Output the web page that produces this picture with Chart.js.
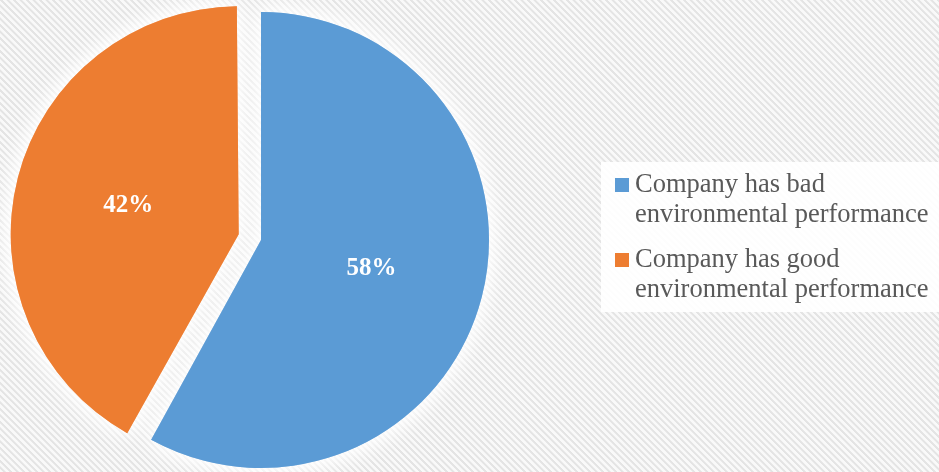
<!DOCTYPE html>
<html>
<head>
<meta charset="utf-8">
<script src="https://cdn.jsdelivr.net/npm/chart.js@4/dist/chart.umd.min.js"></script>
<style>
  html, body { margin: 0; padding: 0; }
  body {
    width: 939px; height: 472px; overflow: hidden; position: relative;
    background: repeating-linear-gradient(45deg, #f9f9f9 0px, #f9f9f9 2px, #e4e4e4 2.6px, #e4e4e4 4px, #f9f9f9 4.6px);
  }
  #chart { position: absolute; left: 0; top: 0; }
  #legend {
    position: absolute; left: 601px; top: 162px; width: 338px; height: 150px;
    background: rgba(255,255,255,0.92);
    font-family: "Liberation Serif", "Times New Roman", serif;
    font-size: 26.5px; line-height: 30px; color: #595959;
  }
  .item { position: absolute; left: 0; }
  .swatch { position: absolute; left: 14px; top: 10px; width: 14px; height: 14px; }
  .text { position: absolute; left: 34px; top: 0; width: 302px; white-space: normal; }
</style>
</head>
<body>
<canvas id="chart" width="939" height="472"></canvas>
<div id="legend"></div>
<script>
// Survey answers: how the company's environmental performance is rated
const categories = [
  ['Company has bad', 'environmental performance'],
  ['Company has good', 'environmental performance']
];
const shares = [58, 42];
const sliceColors = ['#5B9BD5', '#ED7D31'];
const explode = [0, 92]; // second slice is pulled out of the pie

// Chart.js grows an offset arc's radius a little; keep every slice the same size.
const evenRadius = {
  id: 'evenRadius',
  afterDatasetUpdate(chart, args) {
    args.meta.data.forEach(arc => {
      const off = (arc.options.offset || 0) / 4;
      const fix = 1 - Math.sin(Math.min(Math.PI, arc.circumference || 0));
      arc.outerRadius -= off * fix;
      arc.$baseRadius = arc.outerRadius + off * fix;
    });
  }
};

// Soft white glow round the slices
const glow = {
  id: 'glow',
  beforeDatasetsDraw(chart) {
    const ctx = chart.ctx;
    ctx.save();
    ctx.shadowColor = 'rgba(255,255,255,1)';
    ctx.shadowBlur = 22;
    chart.getDatasetMeta(0).data.forEach(arc => arc.draw(ctx));
  },
  afterDatasetsDraw(chart) {
    chart.ctx.restore();
  }
};

// Percentage labels, halfway out along each slice from its own centre
const sliceLabels = {
  id: 'sliceLabels',
  afterDraw(chart) {
    const ctx = chart.ctx;
    const ds = chart.data.datasets[0];
    const total = ds.data.reduce((a, b) => a + b, 0);
    ctx.save();
    ctx.font = 'bold 25px "Liberation Serif", "Times New Roman", serif';
    ctx.fillStyle = '#ffffff';
    ctx.textAlign = 'center';
    ctx.textBaseline = 'middle';
    chart.getDatasetMeta(0).data.forEach((arc, i) => {
      const mid = (arc.startAngle + arc.endAngle) / 2;
      const d = (arc.options.offset || 0) / 4 + arc.$baseRadius / 2;
      const x = arc.x + Math.cos(mid) * d;
      const y = arc.y + Math.sin(mid) * d;
      ctx.fillText(Math.round(ds.data[i] / total * 100) + '%', x, y);
    });
    ctx.restore();
  }
};

new Chart(document.getElementById('chart'), {
  type: 'pie',
  data: {
    labels: categories.map(c => c.join(' ')),
    datasets: [{
      data: shares,
      backgroundColor: sliceColors,
      borderWidth: 0,
      offset: explode,
      radius: 228
    }]
  },
  options: {
    responsive: false,
    animation: false,
    layout: { padding: { left: 0, right: 417, top: 8, bottom: 0 } },
    plugins: {
      legend: { display: false },
      tooltip: { enabled: false }
    }
  },
  plugins: [evenRadius, glow, sliceLabels]
});

// Legend built from the same arrays
const legend = document.getElementById('legend');
const itemTops = [6, 81];
categories.forEach((lines, i) => {
  const item = document.createElement('div');
  item.className = 'item';
  item.style.top = itemTops[i] + 'px';
  const sw = document.createElement('div');
  sw.className = 'swatch';
  sw.style.background = sliceColors[i];
  const tx = document.createElement('div');
  tx.className = 'text';
  tx.textContent = lines.join(' ');
  item.appendChild(sw);
  item.appendChild(tx);
  legend.appendChild(item);
});
</script>
</body>
</html>
